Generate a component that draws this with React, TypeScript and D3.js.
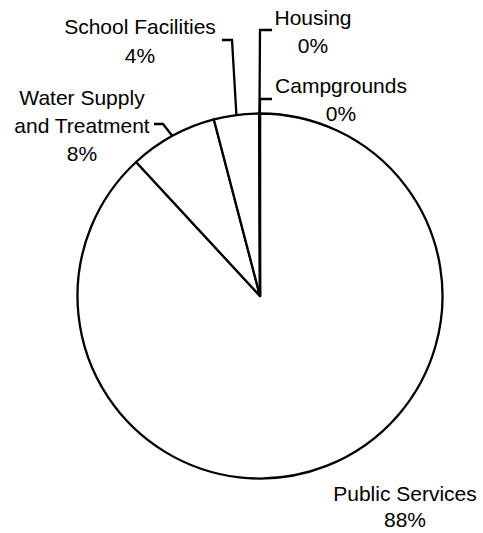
import React from "react";
import * as d3 from "d3";

const categories = ["Public Services", "Water Supply and Treatment", "School Facilities", "Housing", "Campgrounds"];
const values = [88.0, 7.8, 4.0, 0.03, 0.03];
const labelLines = [["Public Services"], ["Water Supply", "and Treatment"], ["School Facilities"], ["Housing"], ["Campgrounds"]];

const W = 483;
const H = 533;
const CX = 260;
const CY = 296;
const R = 182.5;
const FONT = "Arial, 'Liberation Sans', sans-serif";
const FS = 21;

// label layout: text centre x, first baseline y, line height, optional leader elbow [textEnd, elbow]
const layout = [
  { x: 405, y: 501, lh: 26, leader: null as null | number[][] },
  { x: 82, y: 105, lh: 28, leader: [[154, 124], [163, 124]] },
  { x: 140, y: 34, lh: 29, leader: [[222, 40], [232, 40]] },
  { x: 313, y: 25, lh: 28, leader: [[272, 30], [260, 30]] },
  { x: 341, y: 93, lh: 28, leader: [[272, 99], [260, 99]] },
];

export default function App() {
  const total = d3.sum(values);
  const pie = d3.pie<number>().sort(null).startAngle(0).endAngle(2 * Math.PI);
  const arcs = pie(values);
  const arcGen = d3.arc<d3.PieArcDatum<number>>().innerRadius(0).outerRadius(R);

  return (
    <svg width={W} height={H} style={{ position: "absolute", left: 0, top: 0, background: "#fff" }}>
      <g transform={`translate(${CX},${CY})`}>
        {arcs.map((a, i) => (
          <path key={categories[i]} d={arcGen(a) || ""} fill="#fff" stroke="#000" strokeWidth={2.3} strokeLinejoin="round" />
        ))}
      </g>
      {arcs.map((a, i) => {
        const L = layout[i];
        if (!L.leader) return null;
        const mid = (a.startAngle + a.endAngle) / 2;
        const px = CX + R * Math.sin(mid);
        const py = CY - R * Math.cos(mid);
        const pts = [...L.leader, [px, py]];
        return (
          <polyline key={"l" + i} points={pts.map((p) => p.join(",")).join(" ")} fill="none" stroke="#000" strokeWidth={2.3} />
        );
      })}
      {arcs.map((a, i) => {
        const L = layout[i];
        const lines = [...labelLines[i], `${Math.round((values[i] / total) * 100)}%`];
        return (
          <text key={"t" + i} x={L.x} y={L.y} textAnchor="middle" fontFamily={FONT} fontSize={FS} fill="#000">
            {lines.map((ln, j) => (
              <tspan key={j} x={L.x} y={L.y + j * L.lh}>{ln}</tspan>
            ))}
          </text>
        );
      })}
    </svg>
  );
}
